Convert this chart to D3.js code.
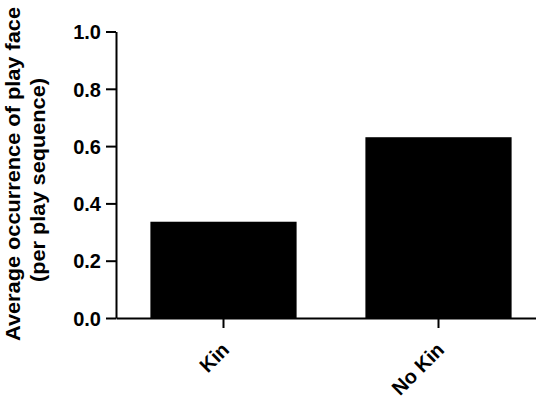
<!DOCTYPE html>
<html>
<head>
<meta charset="utf-8">
<script src="https://cdn.jsdelivr.net/npm/d3@7"></script>
<style>
  body { margin: 0; background: #fff; }
  text { font-family: "Liberation Sans", Arial, sans-serif; font-weight: bold; fill: #000; }
</style>
</head>
<body>
<svg id="chart" width="536" height="398"></svg>
<script>
// data
const groups = ['Kin', 'No Kin'];
const playFace = [0.336, 0.631];
const yTicks = [0, 0.2, 0.4, 0.6, 0.8, 1.0];
const titleLines = ['Average occurrence of play face', '(per play sequence)'];

const svg = d3.select('#chart');

const x = d3.scaleBand()
    .domain(groups)
    .range([116, 546])
    .paddingInner(0.32)
    .paddingOuter(0.16);

const y = d3.scaleLinear()
    .domain([0, 1])
    .range([318, 31.5]);

// bars
svg.selectAll('rect.bar')
  .data(groups)
  .enter().append('rect')
    .attr('class', 'bar')
    .attr('x', function(d) { return x(d); })
    .attr('y', function(d, i) { return y(playFace[i]); })
    .attr('width', x.bandwidth())
    .attr('height', function(d, i) { return y(0) - y(playFace[i]); })
    .attr('fill', '#000');

// y axis
const yAxis = svg.append('g')
    .attr('transform', 'translate(116,0)')
    .call(d3.axisLeft(y).tickValues(yTicks).tickFormat(d3.format('.1f')).tickSize(10).tickSizeOuter(0).tickPadding(5));
yAxis.select('.domain').attr('stroke-width', 2);
yAxis.selectAll('.tick line').attr('stroke-width', 2);
yAxis.selectAll('.tick text').style('font-size', '20px').attr('dy', '0.36em');

// x axis, rotated labels
const xAxis = svg.append('g')
    .attr('transform', 'translate(0,318)')
    .call(d3.axisBottom(x).tickSize(10).tickSizeOuter(0));
xAxis.select('.domain').attr('stroke-width', 2);
xAxis.selectAll('.tick line').attr('stroke-width', 2);
xAxis.selectAll('.tick text')
    .style('font-size', '20px')
    .attr('text-anchor', 'end')
    .attr('dy', null)
    .attr('y', 0)
    .attr('transform', 'translate(7,33) rotate(-45)');

// y title, two lines
svg.append('text')
    .attr('transform', 'translate(20,174) rotate(-90)')
    .attr('text-anchor', 'middle')
    .style('font-size', '20px')
    .attr('textLength', 334)
    .attr('lengthAdjust', 'spacingAndGlyphs')
    .text(titleLines[0]);

svg.append('text')
    .attr('transform', 'translate(45,180) rotate(-90)')
    .attr('text-anchor', 'middle')
    .style('font-size', '20px')
    .attr('textLength', 204)
    .attr('lengthAdjust', 'spacingAndGlyphs')
    .text(titleLines[1]);
</script>
</body>
</html>
